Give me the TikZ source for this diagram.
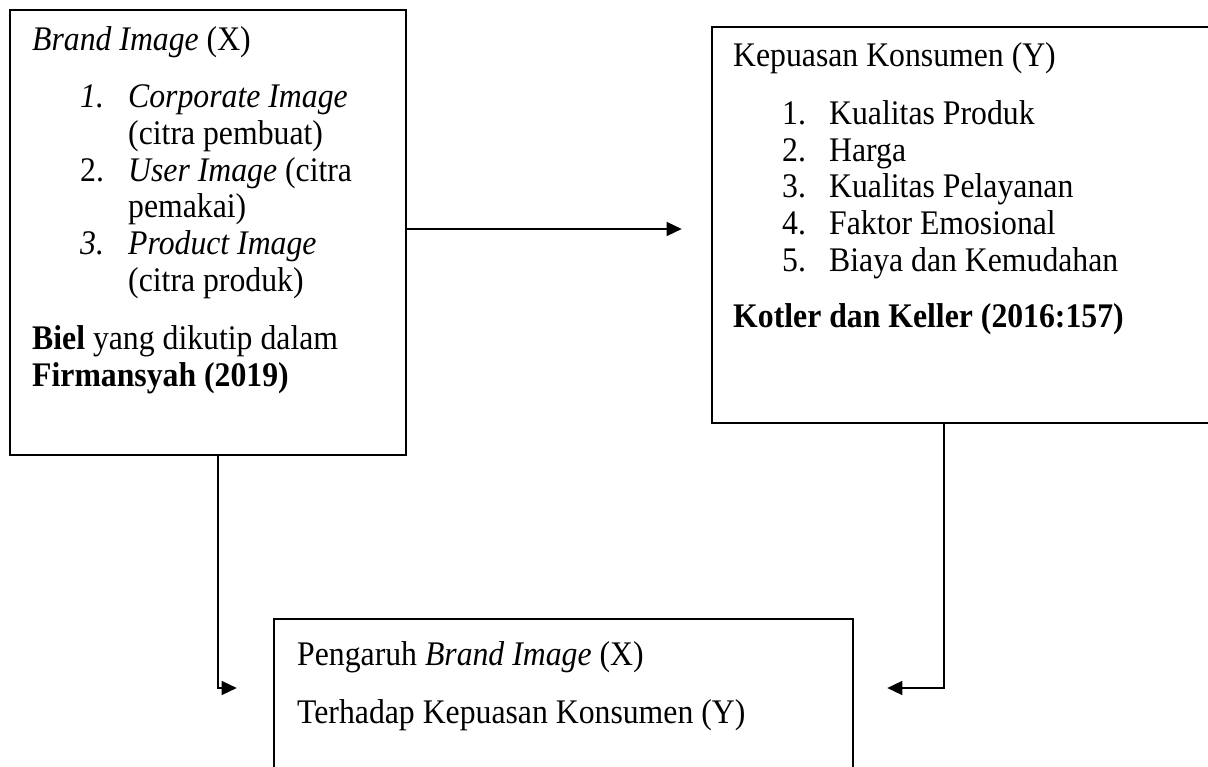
\documentclass[tikz,border=0pt]{standalone}
\usepackage{fontspec}
\setmainfont{Liberation Serif}[FakeStretch=0.92]
\usetikzlibrary{arrows.meta,positioning}

\begin{document}
\begin{tikzpicture}[x=1pt,y=-1pt,
  box/.style={draw,line width=2.6pt,inner sep=0pt},
  txt/.style={anchor=base west,inner sep=0pt,font=\fontsize{34.5}{36}\selectfont},
  arr/.style={line width=1.3pt,-{Triangle[length=15pt,width=14pt]}}]
  \useasboundingbox (0,0) rectangle (1208,767);

  % Boxes
  \node[box,minimum width=396pt,minimum height=445pt] (bx) at (208,232.5) {};
  \node[box,minimum width=500pt,minimum height=396pt] (by) at (962,225) {};
  \node[box,minimum width=579pt,minimum height=161pt] (bz) at (563.5,699.5) {};

  % Brand Image (X)
  \node[txt] (xt) at (32,51) {\textit{Brand Image} (X)};
  \node[txt] (x1n) at (80,108) {\textit{1.}};
  \node[txt] (x1) at (128,108) {\textit{Corporate Image}};
  \node[txt] (x1b) at (128,145) {(citra pembuat)};
  \node[txt] (x2n) at (80,182) {2.};
  \node[txt] (x2) at (128,182) {\textit{User Image} (citra};
  \node[txt] (x2b) at (128,218) {pemakai)};
  \node[txt] (x3n) at (80,255) {\textit{3.}};
  \node[txt] (x3) at (128,255) {\textit{Product Image}};
  \node[txt] (x3b) at (128,292) {(citra produk)};
  \node[txt] (xs1) at (32,350) {\textbf{Biel} yang dikutip dalam};
  \node[txt] (xs2) at (32,387) {\textbf{Firmansyah (2019)}};

  % Kepuasan Konsumen (Y)
  \node[txt] (yt) at (733,67) {Kepuasan Konsumen (Y)};
  \node[txt] (y1n) at (782,125) {1.};
  \node[txt] (y1) at (829,125) {Kualitas Produk};
  \node[txt] (y2n) at (782,162) {2.};
  \node[txt] (y2) at (829,162) {Harga};
  \node[txt] (y3n) at (782,198) {3.};
  \node[txt] (y3) at (829,198) {Kualitas Pelayanan};
  \node[txt] (y4n) at (782,235) {4.};
  \node[txt] (y4) at (829,235) {Faktor Emosional};
  \node[txt] (y5n) at (782,272) {5.};
  \node[txt] (y5) at (829,272) {Biaya dan Kemudahan};
  \node[txt] (ys) at (733,328) {\textbf{Kotler dan Keller (2016:157)}};

  % Pengaruh
  \node[txt] (zt1) at (297,665) {Pengaruh \textit{Brand Image} (X)};
  \node[txt] (zt2) at (297,723) {Terhadap Kepuasan Konsumen (Y)};

  % Arrows
  \draw[arr,shorten >=29pt] (bx.east |- 0,229) -- (by.west |- 0,229);
  \draw[arr,shorten >=36pt] (bx.south -| 218,0) |- (bz.west |- 0,688);
  \draw[arr,shorten >=33pt] (by.south -| 944,0) |- (bz.east |- 0,688);
\end{tikzpicture}
\end{document}
